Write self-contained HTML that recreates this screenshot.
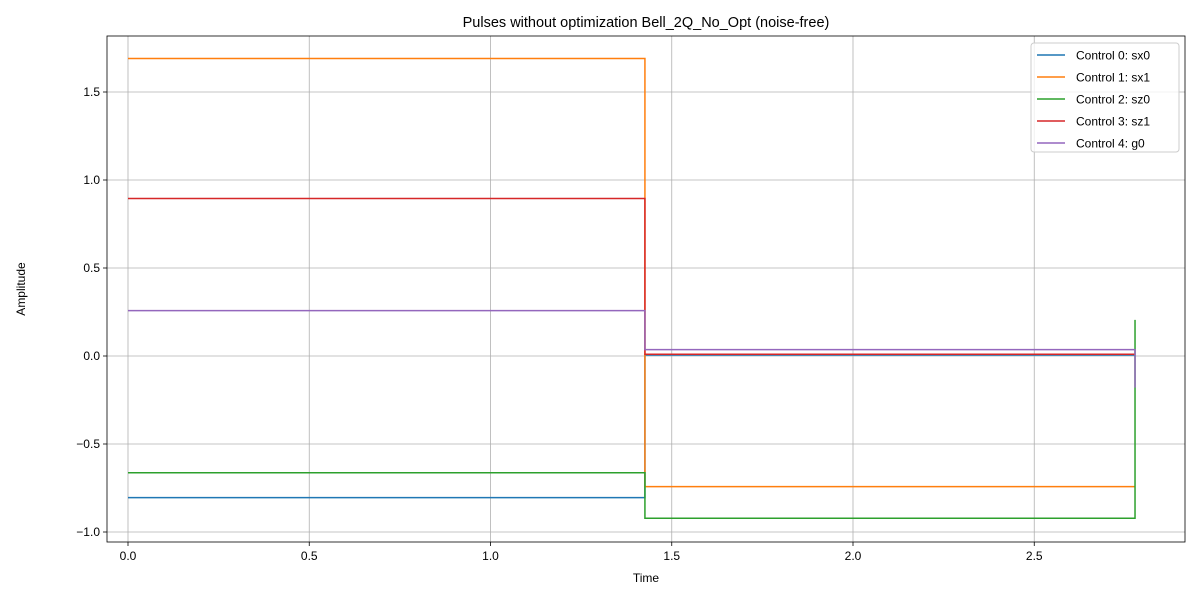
<!DOCTYPE html>
<html><head><meta charset="utf-8"><style>
body{margin:0;background:#fff;font-family:"Liberation Sans","DejaVu Sans",sans-serif;}
svg text{font-family:"Liberation Sans","DejaVu Sans",sans-serif;}
</style></head><body>
<svg id="chart" width="1200" height="600" xmlns="http://www.w3.org/2000/svg">
<rect width="1200" height="600" fill="#fff"/>
<g id="grid"></g><g id="series"></g><g id="axes"></g>
</svg>
<script>
const times = [0, 1.426, 2.778];
const seriesNames = ["Control 0: sx0","Control 1: sx1","Control 2: sz0","Control 3: sz1","Control 4: g0"];
const sx0 = [-0.805, 0.006, 0.006];
const sx1 = [1.69, -0.742, -0.742];
const sz0 = [-0.663, -0.922, 0.205];
const sz1 = [0.895, 0.01, 0.01];
const g0 = [0.258, 0.036, -0.18];
const xTicks = [0, 0.5, 1.0, 1.5, 2.0, 2.5];
const xTickLabels = ["0.0","0.5","1.0","1.5","2.0","2.5"];
const yTicks = [1.5, 1.0, 0.5, 0.0, -0.5, -1.0];
const yTickLabels = ["1.5","1.0","0.5","0.0","\u22120.5","\u22121.0"];

const colors = ["#1f77b4","#ff7f0e","#2ca02c","#d62728","#9467bd"];
const L=107,R=1185,T=36,B=542;
const X = t => 128 + t*362.5;
const Y = v => 356 - v*176;
const NS="http://www.w3.org/2000/svg";
function mk(tag, attrs, parent){const e=document.createElementNS(NS,tag);for(const k in attrs)e.setAttribute(k,attrs[k]);parent.appendChild(e);return e;}
const grid=document.getElementById('grid'), ser=document.getElementById('series'), ax=document.getElementById('axes');

xTicks.forEach((t,i)=>{
  const g=mk('line',{x1:X(t),x2:X(t),y1:T,y2:B,stroke:'#b0b0b0','stroke-width':0.8},grid);
  
  
  mk('line',{x1:X(t),x2:X(t),y1:B,y2:B+4,stroke:'#000','stroke-width':0.8},ax);
  const tx=mk('text',{x:X(t),y:B+18,'text-anchor':'middle','font-size':12,fill:'#000'},ax);
  tx.textContent=xTickLabels[i];
  
  
});
yTicks.forEach((v,i)=>{
  const g=mk('line',{x1:L,x2:R,y1:Y(v),y2:Y(v),stroke:'#b0b0b0','stroke-width':0.8},grid);
  
  
  mk('line',{x1:L-4,x2:L,y1:Y(v),y2:Y(v),stroke:'#000','stroke-width':0.8},ax);
  const tx=mk('text',{x:L-7,y:Y(v)+4,'text-anchor':'end','font-size':12,fill:'#000'},ax);
  tx.textContent=yTickLabels[i];
  
  
});

const allSeries=[sx0,sx1,sz0,sz1,g0];
allSeries.forEach((vals,si)=>{
  let d='M'+X(times[0])+','+Y(vals[0]);
  for(let i=1;i<times.length;i++){d+=' L'+X(times[i])+','+Y(vals[i-1])+' L'+X(times[i])+','+Y(vals[i]);}
  const p=mk('path',{d:d,fill:'none',stroke:colors[si],'stroke-width':1.5},ser);
  
  
});

const fr=mk('rect',{x:L,y:T,width:R-L,height:B-T,fill:'none',stroke:'#000','stroke-width':0.8},ax);



const title=mk('text',{x:(L+R)/2,y:27,'text-anchor':'middle','font-size':14.5,fill:'#000'},ax);
title.textContent='Pulses without optimization Bell_2Q_No_Opt (noise-free)';


const xt=mk('text',{x:(L+R)/2,y:582,'text-anchor':'middle','font-size':12,fill:'#000'},ax);
xt.textContent='Time';


const yt=mk('text',{x:25,y:(T+B)/2,'text-anchor':'middle','font-size':12,fill:'#000',transform:'rotate(-90 25 '+((T+B)/2)+')'},ax);
yt.textContent='Amplitude';



const lg=mk('g',{},ax);


mk('rect',{x:1031,y:43,width:148,height:109,rx:3,fill:'#fff','fill-opacity':0.8,stroke:'#ccc','stroke-width':1},lg);
seriesNames.forEach((n,i)=>{
  const yy=55+i*22;
  const en=mk('g',{},lg);
  
  
  mk('line',{x1:1037,x2:1065,y1:yy,y2:yy,stroke:colors[i],'stroke-width':1.5},en);
  const t=mk('text',{x:1076,y:yy+4.5,'font-size':12,fill:'#000'},en);
  t.textContent=n;
});
</script>
</body></html>
